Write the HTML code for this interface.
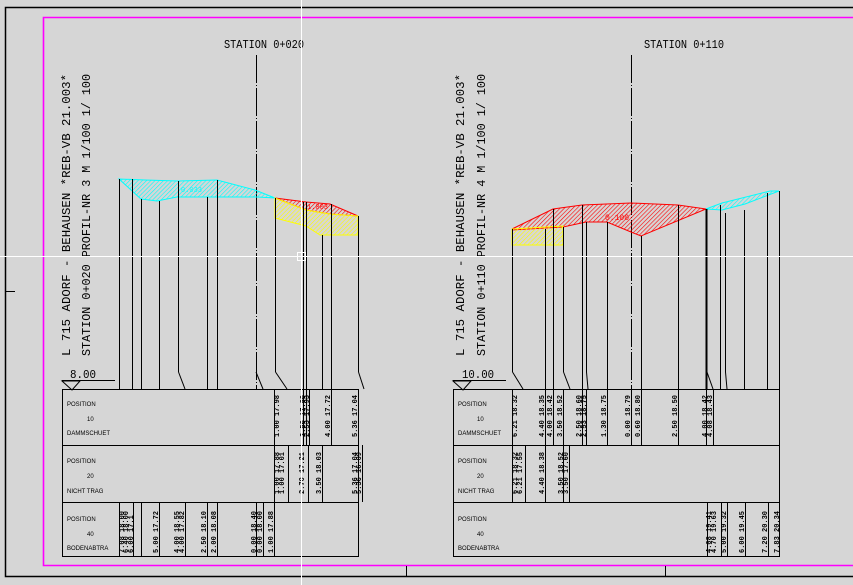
<!DOCTYPE html>
<html><head><meta charset="utf-8"><style>
html,body{margin:0;padding:0;background:#d6d6d6;}
svg{display:block}
text{font-family:"Liberation Mono","DejaVu Sans Mono",monospace;fill:#000}
.s{font-size:7px;font-weight:bold}
.t{font-size:6px;font-family:"Liberation Sans",sans-serif}
</style></head><body>
<svg width="853" height="585" viewBox="0 0 853 585" xmlns="http://www.w3.org/2000/svg">
<defs>
<pattern id="hc" width="3" height="3" patternUnits="userSpaceOnUse" patternTransform="rotate(45)"><line x1="0" y1="0" x2="0" y2="3" stroke="#00ffff" stroke-width="1.2"/></pattern>
<pattern id="hr" width="3" height="3" patternUnits="userSpaceOnUse" patternTransform="rotate(45)"><line x1="0" y1="0" x2="0" y2="3" stroke="#ff0000" stroke-width="1.2"/></pattern>
<pattern id="hy" width="3" height="3" patternUnits="userSpaceOnUse" patternTransform="rotate(45)"><line x1="0" y1="0" x2="0" y2="3" stroke="#ffff00" stroke-width="1.2"/></pattern>
</defs>
<rect width="853" height="585" fill="#d6d6d6"/>
<!-- frames -->
<path d="M853 7.5H5.5V576.5H853" fill="none" stroke="#000" stroke-width="1.5"/>
<path d="M853 17.5H43.5V565.5H853" fill="none" stroke="#ff00ff" stroke-width="1.6"/>
<line x1="406.5" y1="566" x2="406.5" y2="576" stroke="#000"/>
<line x1="665.5" y1="566" x2="665.5" y2="576" stroke="#000"/>
<line x1="5" y1="291.5" x2="15" y2="291.5" stroke="#000"/>

<!-- LEFT PANEL -->
<text x="224" y="48" font-size="12" textLength="80" lengthAdjust="spacingAndGlyphs">STATION 0+020</text>
<line x1="256.5" y1="55" x2="256.5" y2="389" stroke="#000" stroke-dasharray="28,2,1,2"/>
<text transform="translate(70,356) rotate(-90)" font-size="12" textLength="282" lengthAdjust="spacingAndGlyphs">L 715 ADORF - BEHAUSEN *REB-VB 21.003*</text>
<text transform="translate(90,356) rotate(-90)" font-size="12" textLength="282" lengthAdjust="spacingAndGlyphs">STATION 0+020   PROFIL-NR 3   M 1/100 1/ 100</text>

<polygon points="119,179 145,180 178,181 217,180 255,190 275,198 257,197 207,197 177,197 157,201 141,199" fill="url(#hc)" stroke="#00ffff"/>
<polygon points="275,198 306,202 330,204 358,216 330,214 306,210" fill="url(#hr)" stroke="#ff0000"/>
<polygon points="275,198 306,210 330,214 358,216 358,235 320,235 306,226 275,218" fill="url(#hy)" stroke="#ffff00"/>
<text x="181" y="192" font-size="7" style="fill:#00ffff">0.033</text>
<text x="307" y="209" font-size="7" style="fill:#ff0000">1.003</text>

<g stroke="#000" stroke-width="1">
<line x1="119.5" y1="179" x2="119.5" y2="389"/>
<line x1="132.5" y1="179" x2="132.5" y2="389"/>
<line x1="141.5" y1="199" x2="141.5" y2="389"/>
<line x1="159.5" y1="201" x2="159.5" y2="389"/>
<line x1="178.5" y1="181" x2="178.5" y2="372"/><line x1="178.5" y1="372" x2="185" y2="389"/>
<line x1="207.5" y1="197" x2="207.5" y2="389"/>
<line x1="217.5" y1="180" x2="217.5" y2="389"/>
<line x1="256" y1="372" x2="263" y2="389"/>
<line x1="275.5" y1="198" x2="275.5" y2="372"/><line x1="275.5" y1="372" x2="287" y2="389"/>
<line x1="303.5" y1="202" x2="303.5" y2="389"/>
<line x1="306.5" y1="202" x2="306.5" y2="389"/>
<line x1="322.5" y1="235" x2="322.5" y2="389"/>
<line x1="331.5" y1="204" x2="331.5" y2="389"/>
<line x1="358.5" y1="216" x2="358.5" y2="372"/><line x1="358.5" y1="372" x2="364" y2="389"/>
<line x1="62" y1="380.5" x2="115" y2="380.5"/>
<polygon points="62,381 80,381 72,390" fill="none"/>
<rect x="62.5" y="389.5" width="296" height="167" fill="none"/>
<line x1="62" y1="445.5" x2="358" y2="445.5"/>
<line x1="62" y1="502.5" x2="358" y2="502.5"/>
<line x1="274.5" y1="389" x2="274.5" y2="556"/>
<line x1="303.5" y1="389" x2="303.5" y2="445"/><line x1="306.5" y1="389" x2="306.5" y2="445"/><line x1="309.5" y1="389" x2="309.5" y2="445"/><line x1="331.5" y1="389" x2="331.5" y2="445"/>
<line x1="288.5" y1="445" x2="288.5" y2="502"/><line x1="308.5" y1="445" x2="308.5" y2="502"/><line x1="322.5" y1="445" x2="322.5" y2="502"/><line x1="362.5" y1="445" x2="362.5" y2="502"/>
<line x1="119.5" y1="502" x2="119.5" y2="556"/><line x1="133.5" y1="502" x2="133.5" y2="556"/><line x1="141.5" y1="502" x2="141.5" y2="556"/><line x1="159.5" y1="502" x2="159.5" y2="556"/><line x1="185.5" y1="502" x2="185.5" y2="556"/><line x1="207.5" y1="502" x2="207.5" y2="556"/><line x1="217.5" y1="502" x2="217.5" y2="556"/><line x1="256.5" y1="502" x2="256.5" y2="556"/><line x1="263.5" y1="502" x2="263.5" y2="556"/>
</g>
<text x="70" y="378" font-size="12" textLength="26" lengthAdjust="spacingAndGlyphs">8.00</text>
<text class="t" x="67" y="406">POSITION</text><text class="t" x="87" y="421">10</text><text class="t" x="67" y="435">DAMMSCHUET</text>
<text class="t" x="67" y="463">POSITION</text><text class="t" x="87" y="478">20</text><text class="t" x="67" y="493">NICHT TRAG</text>
<text class="t" x="67" y="521">POSITION</text><text class="t" x="87" y="536">40</text><text class="t" x="67" y="550">BODENABTRA</text>
<g class="s">
<text transform="translate(279,437) rotate(-90)">1.00 17.98</text>
<text transform="translate(305,437) rotate(-90)">2.50 17.90</text>
<text transform="translate(309,437) rotate(-90)">2.53 17.93</text>
<text transform="translate(330,437) rotate(-90)">4.00 17.72</text>
<text transform="translate(357,437) rotate(-90)">5.36 17.04</text>
<text transform="translate(279,494) rotate(-90)">1.00 17.88</text>
<text transform="translate(284,494) rotate(-90)">1.00 17.01</text>
<text transform="translate(304,494) rotate(-90)">2.70 17.21</text>
<text transform="translate(321,494) rotate(-90)">3.50 18.03</text>
<text transform="translate(357,494) rotate(-90)">5.36 17.04</text>
<text transform="translate(361,494) rotate(-90)">5.36 16.09</text>
<text transform="translate(124,553) rotate(-90)">7.08 18.00</text>
<text transform="translate(128,553) rotate(-90)">6.40 18.00</text>
<text transform="translate(133,553) rotate(-90)">6.00 17.1</text>
<text transform="translate(158,553) rotate(-90)">5.00 17.72</text>
<text transform="translate(179,553) rotate(-90)">4.00 18.55</text>
<text transform="translate(184,553) rotate(-90)">4.00 17.82</text>
<text transform="translate(206,553) rotate(-90)">2.50 18.10</text>
<text transform="translate(216,553) rotate(-90)">2.00 18.08</text>
<text transform="translate(256,553) rotate(-90)">0.00 18.40</text>
<text transform="translate(262,553) rotate(-90)">0.00 18.00</text>
<text transform="translate(273,553) rotate(-90)">1.00 17.88</text>
</g>

<!-- RIGHT PANEL -->
<text x="644" y="48" font-size="12" textLength="80" lengthAdjust="spacingAndGlyphs">STATION 0+110</text>
<line x1="631.5" y1="55" x2="631.5" y2="389" stroke="#000" stroke-dasharray="28,2,1,2"/>
<text transform="translate(464,356) rotate(-90)" font-size="12" textLength="282" lengthAdjust="spacingAndGlyphs">L 715 ADORF - BEHAUSEN *REB-VB 21.003*</text>
<text transform="translate(485,356) rotate(-90)" font-size="12" textLength="282" lengthAdjust="spacingAndGlyphs">STATION 0+110   PROFIL-NR 4   M 1/100 1/ 100</text>

<polygon points="512,229 553,209 582,205 631,203 678,205 706,209 641,236 631,232 607,222 586,222 563,227 512,230" fill="url(#hr)" stroke="#ff0000"/>
<polygon points="512,229 563,226 563,245 512,245" fill="url(#hy)" stroke="#ffff00"/>
<polygon points="706,209 722,203 770,191 779,191 745,204 722,210" fill="url(#hc)" stroke="#00ffff"/>
<text x="605" y="220" font-size="8" style="fill:#ff0000">0.100</text>

<g stroke="#000" stroke-width="1">
<line x1="512.5" y1="229" x2="512.5" y2="372"/><line x1="512.5" y1="372" x2="523" y2="389"/>
<line x1="545.5" y1="229" x2="545.5" y2="389"/>
<line x1="553.5" y1="209" x2="553.5" y2="389"/>
<line x1="563.5" y1="227" x2="563.5" y2="372"/><line x1="563.5" y1="372" x2="570" y2="389"/>
<line x1="582.5" y1="205" x2="582.5" y2="389"/>
<line x1="586.5" y1="222" x2="586.5" y2="372"/><line x1="586.5" y1="372" x2="588" y2="389"/>
<line x1="607.5" y1="222" x2="607.5" y2="389"/>
<line x1="641.5" y1="236" x2="641.5" y2="389"/>
<line x1="678.5" y1="205" x2="678.5" y2="389"/>
<line x1="706.5" y1="209" x2="706.5" y2="389" stroke-width="2"/>
<line x1="707" y1="372" x2="713" y2="389"/>
<line x1="720.5" y1="205" x2="720.5" y2="389"/>
<line x1="725.5" y1="213" x2="725.5" y2="372"/><line x1="725.5" y1="372" x2="727" y2="389"/>
<line x1="744.5" y1="210" x2="744.5" y2="389"/>
<line x1="767.5" y1="193" x2="767.5" y2="389"/>
<line x1="779.5" y1="191" x2="779.5" y2="389"/>
<line x1="453" y1="380.5" x2="506" y2="380.5"/>
<polygon points="453,381 471,381 463,390" fill="none"/>
<rect x="453.5" y="389.5" width="326" height="167" fill="none"/>
<line x1="453" y1="445.5" x2="780" y2="445.5"/>
<line x1="453" y1="502.5" x2="780" y2="502.5"/>
<line x1="512.5" y1="389" x2="512.5" y2="502"/>
<line x1="545.5" y1="389" x2="545.5" y2="445"/><line x1="553.5" y1="389" x2="553.5" y2="445"/><line x1="563.5" y1="389" x2="563.5" y2="445"/><line x1="582.5" y1="389" x2="582.5" y2="445"/><line x1="586.5" y1="389" x2="586.5" y2="445"/><line x1="607.5" y1="389" x2="607.5" y2="445"/><line x1="631.5" y1="389" x2="631.5" y2="445"/><line x1="641.5" y1="389" x2="641.5" y2="445"/><line x1="678.5" y1="389" x2="678.5" y2="445"/><line x1="706.5" y1="389" x2="706.5" y2="445"/><line x1="713.5" y1="389" x2="713.5" y2="445"/>
<line x1="525.5" y1="445" x2="525.5" y2="502"/><line x1="545.5" y1="445" x2="545.5" y2="502"/><line x1="563.5" y1="445" x2="563.5" y2="502"/><line x1="569.5" y1="445" x2="569.5" y2="502"/>
<line x1="707.5" y1="502" x2="707.5" y2="556"/><line x1="721.5" y1="502" x2="721.5" y2="556"/><line x1="727.5" y1="502" x2="727.5" y2="556"/><line x1="745.5" y1="502" x2="745.5" y2="556"/><line x1="768.5" y1="502" x2="768.5" y2="556"/>
</g>
<text x="462" y="378" font-size="12" textLength="32" lengthAdjust="spacingAndGlyphs">10.00</text>
<text class="t" x="458" y="406">POSITION</text><text class="t" x="477" y="421">10</text><text class="t" x="458" y="435">DAMMSCHUET</text>
<text class="t" x="458" y="463">POSITION</text><text class="t" x="477" y="478">20</text><text class="t" x="458" y="493">NICHT TRAG</text>
<text class="t" x="458" y="521">POSITION</text><text class="t" x="477" y="536">40</text><text class="t" x="458" y="550">BODENABTRA</text>
<g class="s">
<text transform="translate(517,437) rotate(-90)">6.21 18.32</text>
<text transform="translate(544,437) rotate(-90)">4.40 18.35</text>
<text transform="translate(552,437) rotate(-90)">4.00 18.42</text>
<text transform="translate(562,437) rotate(-90)">3.50 18.52</text>
<text transform="translate(581,437) rotate(-90)">2.50 18.60</text>
<text transform="translate(586,437) rotate(-90)">2.53 18.75</text>
<text transform="translate(606,437) rotate(-90)">1.30 18.75</text>
<text transform="translate(630,437) rotate(-90)">0.00 18.79</text>
<text transform="translate(640,437) rotate(-90)">0.60 18.80</text>
<text transform="translate(677,437) rotate(-90)">2.50 18.50</text>
<text transform="translate(707,437) rotate(-90)">4.00 18.42</text>
<text transform="translate(712,437) rotate(-90)">4.08 18.43</text>
<text transform="translate(517,494) rotate(-90)">6.21 18.32</text>
<text transform="translate(522,494) rotate(-90)">6.21 17.55</text>
<text transform="translate(544,494) rotate(-90)">4.40 18.38</text>
<text transform="translate(563,494) rotate(-90)">3.50 18.52</text>
<text transform="translate(568,494) rotate(-90)">3.50 17.60</text>
<text transform="translate(711,553) rotate(-90)">4.08 19.41</text>
<text transform="translate(716,553) rotate(-90)">4.70 19.63</text>
<text transform="translate(726,553) rotate(-90)">5.00 19.32</text>
<text transform="translate(744,553) rotate(-90)">6.00 19.45</text>
<text transform="translate(767,553) rotate(-90)">7.20 20.30</text>
<text transform="translate(779,553) rotate(-90)">7.83 20.34</text>
</g>

<!-- crosshair -->
<line x1="0" y1="256.5" x2="853" y2="256.5" stroke="#fff" stroke-width="1"/>
<line x1="301.5" y1="0" x2="301.5" y2="585" stroke="#fff" stroke-width="1"/>
<rect x="297.5" y="252.5" width="8" height="8" fill="none" stroke="#fff"/>
</svg>
</body></html>
